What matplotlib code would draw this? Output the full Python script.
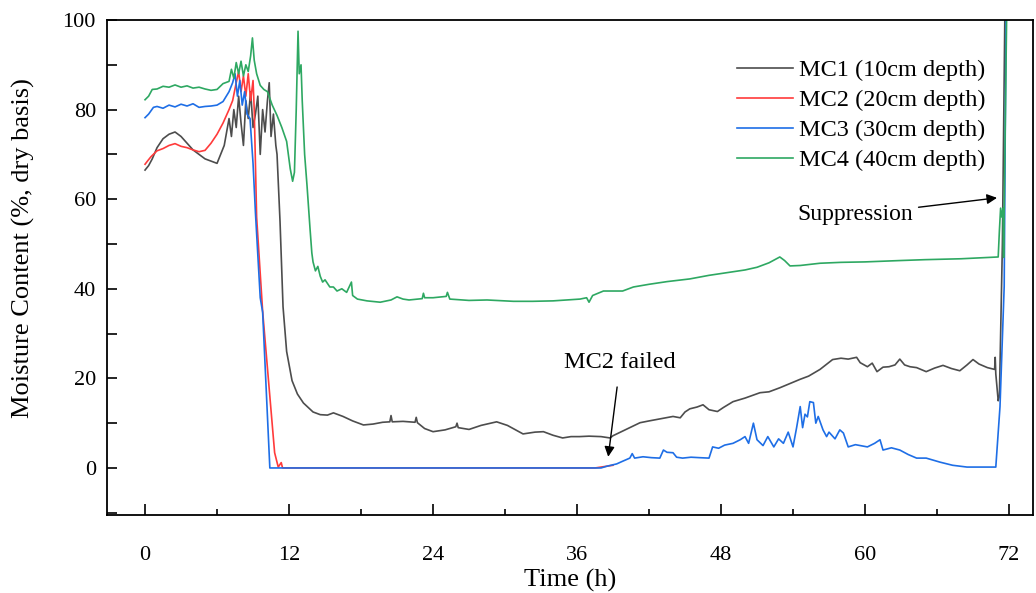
import numpy as np
import matplotlib
matplotlib.use('Agg')
import matplotlib.pyplot as plt
from matplotlib.ticker import MultipleLocator

plt.rcParams['font.family'] = ['Liberation Serif', 'DejaVu Serif']

# MC1 (10cm depth), gray
t1 = [0, 0.3, 0.6, 1.0, 1.5, 2.0, 2.5, 3.0, 3.5, 4.0, 4.5, 5.0, 5.5, 6.0, 6.3, 6.6, 6.8, 7.0, 7.2, 7.4,
      7.6, 7.8, 8.0, 8.2, 8.4, 8.6, 8.8, 9.0, 9.2, 9.4, 9.6, 9.8, 10.0, 10.2, 10.35, 10.5, 10.7, 10.9, 11.0,
      11.25, 11.5, 11.8, 12.25, 12.7, 13.2, 14.0, 14.6, 15.2, 15.7, 16.5, 17.3, 18.2, 19.0, 19.8, 20.4,
      20.5, 20.6, 21.5, 22.5, 22.6, 22.7, 23.3, 24.0, 25.0, 25.9, 26.0, 26.1, 27.0, 28.0, 29.3, 30.2, 31.5,
      32.5, 33.2, 34.0, 34.8, 35.5, 36.2, 37.0, 38.0, 38.75, 39.0, 40.0, 41.25, 42.0, 43.0, 44.0, 44.6,
      45.0, 45.4, 46.0, 46.5, 47.0, 47.7, 48.2, 49.0, 50.0, 51.25, 52.0, 52.9, 53.7, 54.6, 55.3, 56.25,
      57.3, 58.0, 58.6, 59.3, 59.6, 60.2, 60.6, 61.0, 61.5, 62.0, 62.5, 62.9, 63.3, 63.75, 64.3, 65.1,
      65.8, 66.5, 67.2, 67.9, 68.5, 69.0, 69.5, 70.2, 70.8, 70.85, 70.9, 71.1, 71.2, 71.45, 71.65]
mc1 = [66.5, 67.5, 69, 71.5, 73.5, 74.5, 75, 74, 72.5, 71, 70, 69, 68.5, 68, 70, 72, 75, 78, 74, 80,
       76, 83, 77, 72, 82, 78, 84, 76, 79, 83, 70, 80, 75, 82, 86, 74, 79, 72, 70,
       55, 36, 26, 19.5, 16.5, 14.5, 12.5, 11.9, 11.8, 12.3, 11.5, 10.5, 9.6, 9.8, 10.2, 10.3,
       11.7, 10.3, 10.4, 10.2, 11.3, 10.1, 8.8, 8.1, 8.5, 9.2, 10, 9, 8.6, 9.5, 10.3, 9.5, 7.6,
       8, 8.1, 7.3, 6.7, 7, 7, 7.1, 7, 6.7, 7.2, 8.5, 10.1, 10.5, 11, 11.5, 11.2,
       12.5, 13.2, 13.6, 14.1, 13, 12.6, 13.5, 14.8, 15.6, 16.8, 17, 17.9, 18.8, 19.8, 20.5, 22,
       24.2, 24.5, 24.3, 24.7, 23.5, 22.6, 23.4, 21.5, 22.5, 22.6, 23, 24.3, 23, 22.6, 22.4, 21.5,
       22.3, 22.9, 22.2, 21.7, 23, 24.2, 23.2, 22.4, 22, 24.7, 21, 15, 16, 50, 100]

# MC2 (20cm depth), red
t2 = [0, 0.2, 0.5, 1.0, 1.5, 2.0, 2.5, 3.0, 3.5, 4.0, 4.5, 5.0, 5.5, 6.0, 6.5, 7.0, 7.3, 7.6, 7.8,
      8.0, 8.2, 8.4, 8.6, 8.8, 9.0, 9.1, 9.2, 9.3, 9.8, 10.4, 10.8, 11.1, 11.35, 11.45, 11.5, 37.5,
      38.0, 38.5, 39.0]
mc2 = [67.8, 68.5, 69.5, 70.8, 71.3, 72, 72.4, 71.8, 71.5, 71, 70.6, 70.9, 72.5, 74.5, 77, 80, 82, 86, 88.5,
       84, 87.5, 83, 88, 82, 86.5, 80, 68, 56, 35, 16, 3.4, 0.2, 1.2, 0.1, 0, 0,
       0.2, 0.4, 0.6]

# MC3 (30cm depth), blue
t3 = [0, 0.3, 0.7, 1.0, 1.5, 2.0, 2.5, 3.0, 3.5, 4.0, 4.5, 5.0, 5.5, 6.0, 6.5, 7.0, 7.3, 7.5, 7.7,
      7.9, 8.1, 8.3, 8.5, 8.75, 9.0, 9.2, 9.6, 9.8, 10.4, 38.0, 38.5, 39.3, 39.8, 40.4, 40.6, 40.8,
      41.5, 42.2, 42.9, 43.2, 43.5, 44.0, 44.3, 44.8, 45.5, 46.2, 47.0, 47.3, 47.8, 48.3, 49.0, 49.6,
      50.0, 50.3, 50.7, 51.0, 51.5, 51.9, 52.4, 52.8, 53.2, 53.6, 54.0, 54.3, 54.6, 54.8, 55.0, 55.2,
      55.4, 55.7, 55.9, 56.1, 56.5, 56.8, 57.0, 57.5, 57.9, 58.2, 58.6, 59.2, 60.2, 60.8, 61.25, 61.5,
      62.2, 62.9, 63.6, 64.3, 65.1, 66.25, 67.3, 68.5, 70.9, 71.25, 71.6, 71.75]
mc3 = [78.2, 79, 80.5, 80.7, 80.3, 81, 80.6, 81.2, 80.8, 81.3, 80.5, 80.7, 80.8, 81, 81.8, 84, 86, 88, 83,
       86.5, 81, 84, 79, 78, 68, 57, 38, 34.8, 0, 0, 0.4, 0.9, 1.5, 2.2, 3.2, 2.2,
       2.5, 2.3, 2.2, 4, 3.5, 3.4, 2.4, 2.2, 2.4, 2.3, 2.2, 4.7, 4.4, 5.1, 5.5, 6.3,
       7, 5.5, 10, 6.3, 5, 7, 4.7, 6.5, 5.5, 8, 4.7, 9, 13.7, 9, 12, 11.4,
       14.8, 14.6, 10, 11.5, 8.5, 7, 8, 6.5, 8.5, 7.8, 4.7, 5.2, 4.7, 5.5, 6.3, 4,
       4.5, 4, 3, 2.2, 2.2, 1.3, 0.6, 0.2, 0.2, 13.7, 40.6, 100]

# MC4 (40cm depth), green
t4 = [0, 0.3, 0.6, 1.0, 1.5, 2.0, 2.5, 3.0, 3.5, 4.0, 4.5, 5.0, 5.5, 6.0, 6.5, 7.0, 7.2, 7.4, 7.6,
      7.8, 8.0, 8.2, 8.4, 8.6, 8.8, 8.95, 9.1, 9.3, 9.6, 9.9, 10.2, 10.6, 11.0, 11.4, 11.8, 12.1, 12.3,
      12.45, 12.6, 12.75, 12.85, 13.0, 13.1, 13.3, 13.5, 13.75, 13.9, 14.0, 14.2, 14.4, 14.6, 14.8, 15.0,
      15.4, 15.7, 16.0, 16.4, 16.8, 17.2, 17.3, 17.7, 18.5, 19.6, 20.5, 21.0, 21.5, 22.0, 23.1, 23.2,
      23.3, 24.0, 25.1, 25.2, 25.4, 27.0, 28.5, 30.7, 32.3, 34.0, 36.25, 36.8, 37.0, 37.3, 38.2, 39.8,
      40.7, 42.0, 43.5, 45.4, 47.0, 48.75, 50.0, 51.0, 52.0, 52.9, 53.3, 53.75, 54.6, 56.25, 58.0,
      60.0, 62.9, 65.0, 68.0, 71.1, 71.2, 71.3, 71.4, 71.5, 71.55, 71.6, 71.8]
mc4 = [82.2, 83, 84.5, 84.6, 85.2, 85, 85.5, 85, 85.3, 84.8, 85, 84.6, 84.3, 84.5, 85.8, 86.3, 89, 87, 90.5,
       88, 90.8, 87.5, 90, 88.5, 92, 96, 91, 88, 85.4, 84.5, 84, 81, 78.7, 76, 72.9, 66.8, 64,
       66, 80, 97.5, 88, 90, 82, 70, 63, 53.4, 48, 46, 44, 45, 42.8, 41.5, 42,
       40.4, 40.4, 39.5, 40, 39.2, 41.5, 38.5, 37.7, 37.3, 37, 37.5, 38.2, 37.7, 37.5, 37.8, 39,
       38, 38, 38.3, 39.2, 37.7, 37.4, 37.5, 37.2, 37.2, 37.3, 37.7, 38, 37, 38.5, 39.5, 39.5,
       40.4, 41, 41.6, 42.2, 43, 43.7, 44.2, 44.8, 45.8, 47.1, 46.3, 45.1, 45.2, 45.7, 45.9,
       46, 46.3, 46.5, 46.7, 47.1, 53, 58, 56, 58, 47, 58, 100]

labels = ['MC1 (10cm depth)', 'MC2 (20cm depth)', 'MC3 (30cm depth)', 'MC4 (40cm depth)']
colors = ['#4d4d4d', '#ff3b3b', '#1e6ee6', '#2ea862']

fig = plt.figure(figsize=(10.36, 5.93), dpi=100)
ax = fig.add_axes([107/1036, 1 - 515/593, (1033 - 107)/1036, (515 - 20)/593])

for t, v, c, lab in zip([t1, t2, t3, t4], [mc1, mc2, mc3, mc4], colors, labels):
    ax.plot(t, v, color=c, lw=1.2, label=lab)

ax.set_xlim(-3.17, 74)
ax.set_ylim(-10.5, 100)
ax.xaxis.set_major_locator(MultipleLocator(12))
ax.xaxis.set_minor_locator(MultipleLocator(6))
ax.yaxis.set_major_locator(MultipleLocator(20))
ax.yaxis.set_minor_locator(MultipleLocator(10))
ax.tick_params(axis='both', which='both', direction='in', labelsize=16, width=1.2)
ax.tick_params(axis='x', which='major', length=8, pad=22)
ax.tick_params(axis='x', which='minor', length=4)
ax.tick_params(axis='y', which='both', length=7, pad=8)
for s in ax.spines.values():
    s.set_linewidth(1.3)

ax.set_xlabel('Time (h)', fontsize=19, labelpad=3)
ax.set_ylabel('Moisture Content (%, dry basis)', fontsize=19)
ax.yaxis.set_label_coords(-72/926, 0.54)

ax.legend(loc='upper left', bbox_to_anchor=(737/1036, 1 - 59/593), bbox_transform=fig.transFigure,
          frameon=False, fontsize=17.5, handlelength=2.3, handletextpad=0.25, labelspacing=0.33,
          borderpad=0, borderaxespad=0)

ax.annotate('Suppression', xy=(71.0, 60.3), xytext=(64.0, 56.5), fontsize=17, ha='right', va='center',
            arrowprops=dict(arrowstyle='-|>', color='black', lw=1, mutation_scale=15, shrinkA=2, shrinkB=0))
ax.annotate('MC2 failed', xy=(38.6, 2.5), xytext=(39.6, 23.5), fontsize=17.5, ha='center', va='center',
            arrowprops=dict(arrowstyle='-|>', color='black', lw=1, mutation_scale=15, shrinkA=8, shrinkB=0))

fig.savefig('out.png', dpi=100)
